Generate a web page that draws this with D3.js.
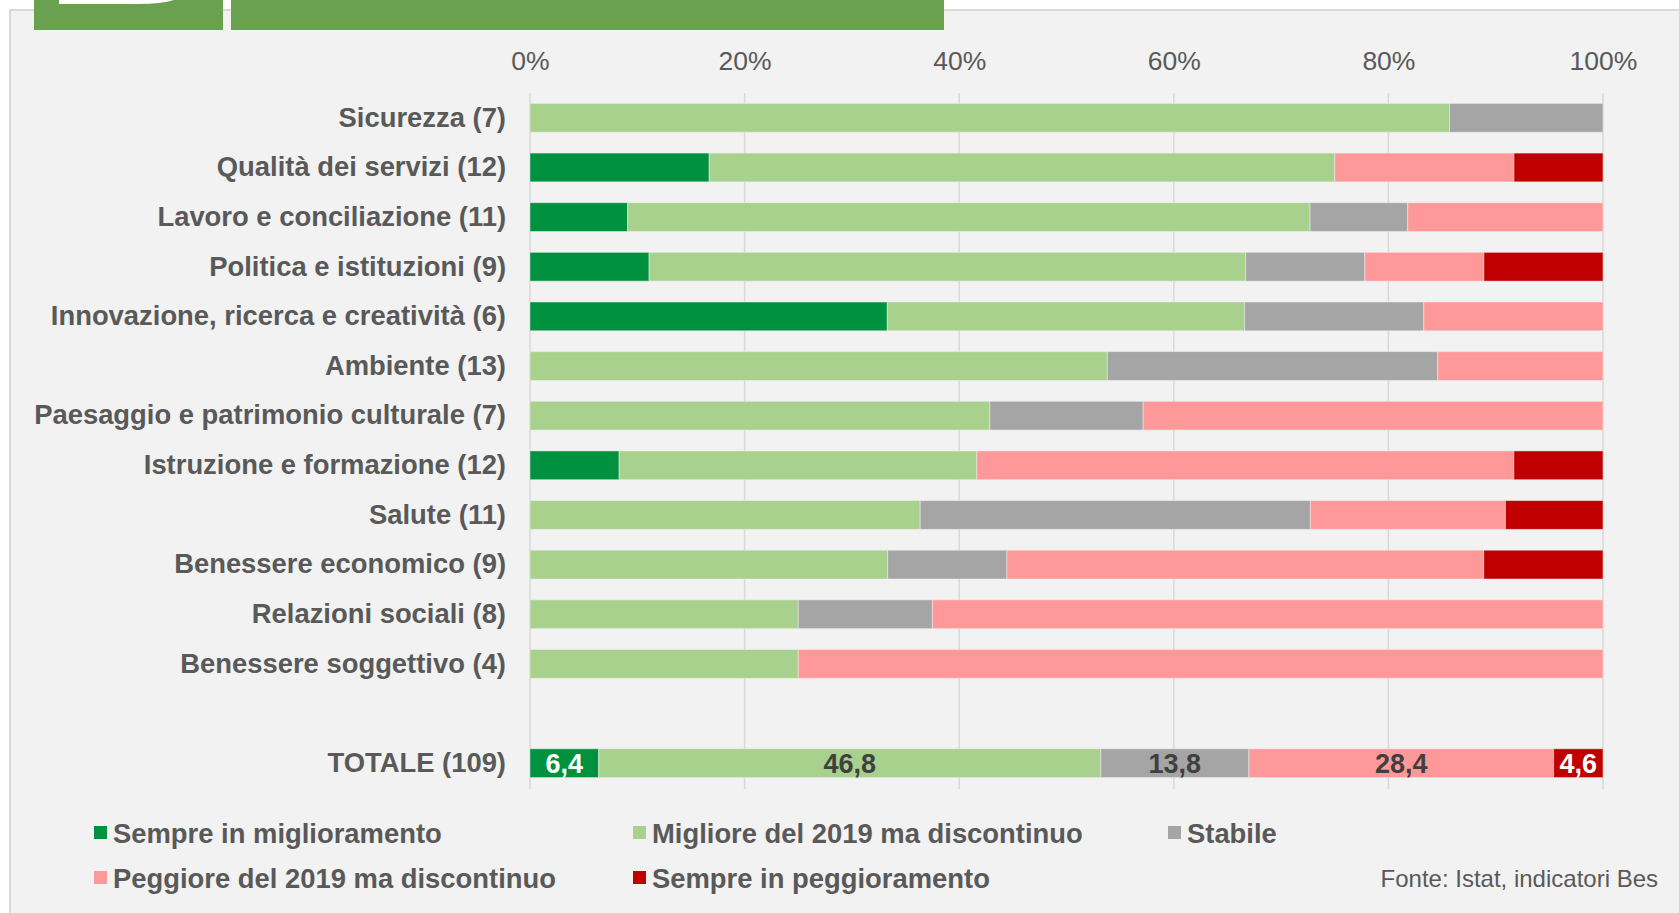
<!DOCTYPE html>
<html>
<head>
<meta charset="utf-8">
<script src="https://cdn.jsdelivr.net/npm/d3@7"></script>
<style>
  body { margin: 0; background: #ffffff; }
  svg { display: block; }
</style>
</head>
<body>
<div id="chart"></div>
<script>
const categories = [
    'Sicurezza (7)',
    'Qualità dei servizi (12)',
    'Lavoro e conciliazione (11)',
    'Politica e istituzioni (9)',
    'Innovazione, ricerca e creatività (6)',
    'Ambiente (13)',
    'Paesaggio e patrimonio culturale (7)',
    'Istruzione e formazione (12)',
    'Salute (11)',
    'Benessere economico (9)',
    'Relazioni sociali (8)',
    'Benessere soggettivo (4)',
    'TOTALE (109)'
]

const seriesNames = [
    'Sempre in miglioramento',
    'Migliore del 2019 ma discontinuo',
    'Stabile',
    'Peggiore del 2019 ma discontinuo',
    'Sempre in peggioramento'
]
const seriesColors = ['#00913f', '#a9d18e', '#a5a5a5', '#ff9999', '#c00000']

// percent of indicators
const sempreMigl = [0, 16.7, 9.1, 11.1, 33.3, 0, 0, 8.3, 0, 0, 0, 0, 6.4]
const miglDiscont = [85.7, 58.3, 63.6, 55.6, 33.3, 53.8, 42.9, 33.3, 36.4, 33.3, 25.0, 25.0, 46.8]
const stabile = [14.3, 0, 9.1, 11.1, 16.7, 30.8, 14.3, 0, 36.4, 11.1, 12.5, 0, 13.8]
const peggDiscont = [0, 16.7, 18.2, 11.1, 16.7, 15.4, 42.9, 50.0, 18.2, 44.4, 62.5, 75.0, 28.4]
const semprePegg = [0, 8.3, 0, 11.1, 0, 0, 0, 8.3, 9.1, 11.1, 0, 0, 4.6]

const xTicks = [0, 0.2, 0.4, 0.6, 0.8, 1]

const width = 1679
const height = 913
const x0 = 530
const x1 = 1603
const fontFamily = '"Liberation Sans", Arial, Helvetica, sans-serif'

const rows = categories.map((c, i) => ({
    cat: c,
    [seriesNames[0]]: sempreMigl[i],
    [seriesNames[1]]: miglDiscont[i],
    [seriesNames[2]]: stabile[i],
    [seriesNames[3]]: peggDiscont[i],
    [seriesNames[4]]: semprePegg[i]
}))

// empty slot between the domains and the total
const yDomain = categories.slice(0, 12).concat(['_gap'], categories.slice(12))

const svg = d3.select('#chart')
    .append('svg')
    .attr('width', width)
    .attr('height', height)

// frame
svg.append('rect')
    .attr('x', 10)
    .attr('y', 10)
    .attr('width', width)
    .attr('height', height)
    .style('fill', '#f2f2f2')
    .style('stroke', '#d9d9d9')
    .style('stroke-width', 2)

// green header blocks, cut off at the top
svg.append('rect')
    .attr('x', 34).attr('y', 0).attr('width', 189).attr('height', 30)
    .style('fill', '#6aa151')
svg.append('path')
    .attr('d', 'M59,0 L59,4 L137,4 Q162,4 174,0 Z')
    .style('fill', '#ffffff')
svg.append('rect')
    .attr('x', 231).attr('y', 0).attr('width', 713).attr('height', 30)
    .style('fill', '#6aa151')

const xScale = d3.scaleLinear().domain([0, 1]).range([x0, x1])
const yScale = d3.scaleBand().domain(yDomain).range([93, 788]).paddingInner(0.42).paddingOuter(0.21)

// gridlines
svg.append('g')
    .selectAll('line')
    .data(xTicks)
    .join('line')
    .attr('x1', d => xScale(d))
    .attr('x2', d => xScale(d))
    .attr('y1', 93)
    .attr('y2', 789)
    .style('stroke', '#d9d9d9')
    .style('stroke-width', 1.5)

// top axis labels
const xAxis = svg.append('g')
    .attr('transform', 'translate(0,70)')
    .call(d3.axisTop(xScale).tickValues(xTicks).tickFormat(d3.format('.0%')).tickSize(0).tickPadding(0))
xAxis.select('.domain').remove()
xAxis.selectAll('text')
    .style('font-family', fontFamily)
    .style('font-size', '26.5px')
    .style('fill', '#595959')
    .attr('dy', 0)

const stack = d3.stack().keys(seriesNames).offset(d3.stackOffsetExpand)
const stacked = stack(rows)

svg.append('g')
    .selectAll('g')
    .data(stacked)
    .join('g')
    .style('fill', (d, i) => seriesColors[i])
    .selectAll('rect')
    .data(d => d.filter(s => s[1] - s[0] > 0))
    .join('rect')
    .attr('x', d => xScale(d[0]))
    .attr('y', d => yScale(d.data.cat))
    .attr('width', d => xScale(d[1]) - xScale(d[0]))
    .attr('height', yScale.bandwidth())
    .style('stroke', '#f2f2f2')
    .style('stroke-opacity', 0.5)
    .style('stroke-width', 1)

// category labels
svg.append('g')
    .attr('transform', `translate(${x0},0)`)
    .call(d3.axisLeft(yScale).tickValues(categories).tickSize(0).tickPadding(24))
    .call(g => g.select('.domain').remove())
    .selectAll('text')
    .style('font-family', fontFamily)
    .style('font-size', '27.4px')
    .style('font-weight', 'bold')
    .style('fill', '#595959')

// values on the total bar
const totalCat = categories[categories.length - 1]
const totalSegs = stacked.map((s, i) => ({ seg: s[s.length - 1], i: i }))
svg.append('g')
    .selectAll('text')
    .data(totalSegs)
    .join('text')
    .attr('x', d => (xScale(d.seg[0]) + xScale(d.seg[1])) / 2)
    .attr('y', yScale(totalCat) + yScale.bandwidth() / 2)
    .attr('dy', '0.36em')
    .attr('text-anchor', 'middle')
    .style('font-family', fontFamily)
    .style('font-size', '27px')
    .style('font-weight', 'bold')
    .style('fill', d => (d.i === 0 || d.i === 4) ? '#ffffff' : '#404040')
    .text(d => d3.format('.1f')(d.seg.data[seriesNames[d.i]]).replace('.', ','))

// legend
const legendPos = [
    { x: 94, y: 833 },
    { x: 633, y: 833 },
    { x: 1168, y: 833 },
    { x: 94, y: 878 },
    { x: 633, y: 878 }
]
const legend = svg.append('g')
    .selectAll('g')
    .data(seriesNames)
    .join('g')
    .attr('transform', (d, i) => `translate(${legendPos[i].x},${legendPos[i].y})`)
legend.append('rect')
    .attr('x', 0)
    .attr('y', -7)
    .attr('width', 13)
    .attr('height', 13)
    .style('fill', (d, i) => seriesColors[i])
legend.append('text')
    .attr('x', 19)
    .attr('dy', '0.36em')
    .style('font-family', fontFamily)
    .style('font-size', '27.4px')
    .style('font-weight', 'bold')
    .style('fill', '#595959')
    .text(d => d)

// source
svg.append('text')
    .attr('x', 1658)
    .attr('y', 878)
    .attr('dy', '0.36em')
    .attr('text-anchor', 'end')
    .style('font-family', fontFamily)
    .style('font-size', '24px')
    .style('fill', '#595959')
    .text('Fonte: Istat, indicatori Bes')
</script>
</body>
</html>
